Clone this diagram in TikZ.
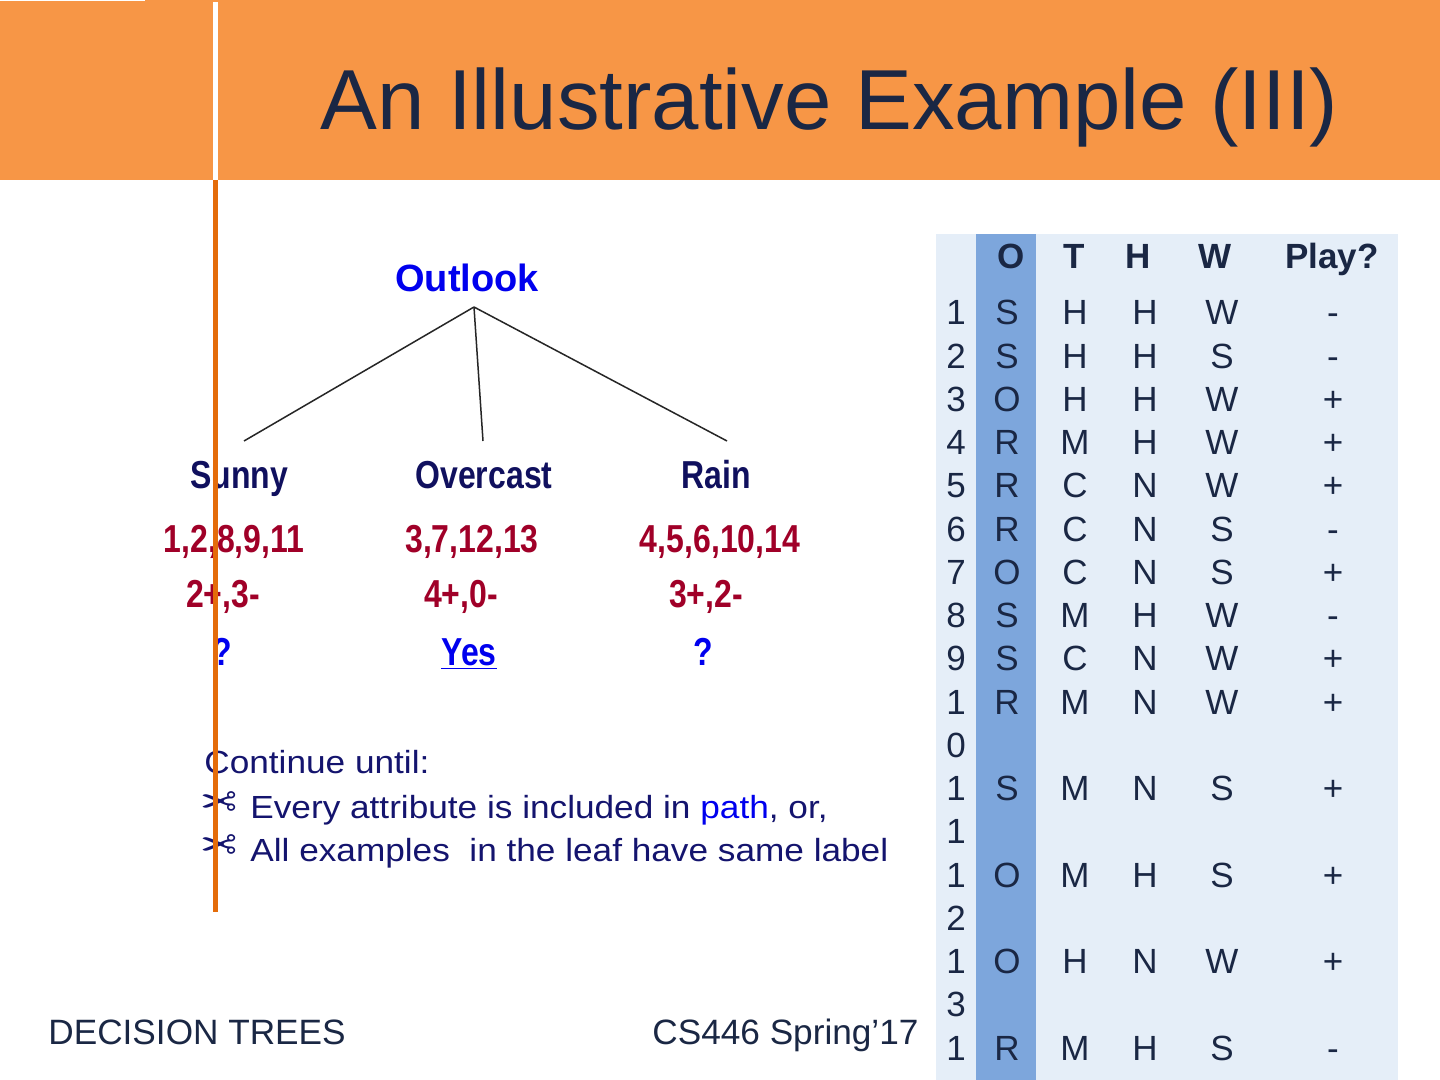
\documentclass[tikz,border=0pt]{standalone}
\usepackage{fontspec}
\usepackage{tikz}
\usetikzlibrary{positioning}
\setmainfont{Liberation Sans}
\newfontfamily\condfont[FakeStretch=0.82]{Liberation Sans}
\newfontfamily\widefont[FakeStretch=1.1]{Liberation Sans}
\newfontfamily\symfont{DejaVu Sans}
\definecolor{header}{HTML}{F79646}
\definecolor{rule}{HTML}{E46C0A}
\definecolor{ink}{HTML}{1A2744}
\definecolor{attrblue}{HTML}{0000EE}
\definecolor{branchnavy}{HTML}{10105E}
\definecolor{countred}{HTML}{A00028}
\definecolor{notenavy}{HTML}{14146E}
\definecolor{tablebg}{HTML}{E5EEF8}
\definecolor{colO}{HTML}{7DA6DC}
\tikzset{
  txt/.style={inner sep=0pt, anchor=base},
  titletxt/.style={txt, anchor=base west, text=ink, font=\fontsize{42.6}{50}\selectfont},
  attr/.style={txt, text=attrblue, font=\bfseries\fontsize{19}{23}\selectfont},
  branch/.style={txt, text=branchnavy, font=\condfont\bfseries\fontsize{19.5}{23}\selectfont},
  count/.style={branch, text=countred},
  leaf/.style={branch, text=attrblue},
  note/.style={txt, anchor=base west, text=notenavy, font=\widefont\fontsize{16}{19}\selectfont},
  snip/.style={txt, text=notenavy, xscale=-1, font=\symfont\fontsize{22}{26}\selectfont},
  cell/.style={txt, text=ink, font=\fontsize{17.5}{21}\selectfont},
  headcell/.style={cell, font=\bfseries\fontsize{17.5}{21}\selectfont},
  foot/.style={txt, anchor=base west, text=ink, font=\fontsize{17.6}{22}\selectfont},
  edge/.style={draw=black!85, line width=0.75pt}
}
\begin{document}
\begin{tikzpicture}[x=0.5pt, y=-0.5pt]
  \useasboundingbox (0,0) rectangle (1440,1080);
  \fill[white] (0,0) rectangle (1440,1080);
  % title bar
  \fill[header] (0,0) rectangle (1440,180);
  \draw[white, line width=1pt] (0,0) -- (145,0);
  \draw[white, line width=2.2pt] (215.5,2) -- (215.5,180);
  \node[titletxt] (title) at (320,130) {An Illustrative Example (III)};

  % tree
  \node[attr] (outlook) at (467,292) {Outlook};
  \coordinate (split) at (474,307);
  \coordinate (sunnytop) at (244,441);
  \coordinate (overtop) at (483,441);
  \coordinate (raintop) at (727,441);
  \draw[edge] (split) -- (sunnytop);
  \draw[edge] (split) -- (overtop);
  \draw[edge] (split) -- (raintop);

  \node[branch] (sunny) at (239,488) {Sunny};
  \node[branch] (overcast) at (484,488) {Overcast};
  \node[branch] (rain) at (716,488) {Rain};
  \node[count] (sunnyset) at (234,552) {1,2,8,9,11};
  \node[count] (overset) at (472,552) {3,7,12,13};
  \node[count] (rainset) at (720,552) {4,5,6,10,14};
  \node[count] (sunnycnt) at (223,607) {2+,3-};
  \node[count] (overcnt) at (461,607) {4+,0-};
  \node[count] (raincnt) at (706,607) {3+,2-};
  \node[leaf] (sunnyleaf) at (222,665) {?};
  \node[leaf] (overleaf) at (469,665) {\underline{Yes}};
  \node[leaf] (rainleaf) at (703,665) {?};

  % stopping rule
  \node[note] (cont) at (204,773) {Continue until:};
  \node[snip] (b1) at (219,817) {✂};
  \node[note] (r1) at (250,818) {Every attribute is included in \textcolor{attrblue}{path}, or,};
  \node[snip] (b2) at (219,860) {✂};
  \node[note] (r2) at (250,861) {All examples\ \ in the leaf have same label};

  % footer
  \node[foot] (course) at (48,1044) {DECISION TREES};
  \node[foot] (term) at (652,1044) {CS446 Spring’17};

  % data table
  \fill[tablebg] (936,234) rectangle (1398,1080);
  \fill[colO] (976,234) rectangle (1036,1080);
  \node[headcell] (hO) at (1011,269) {O};
  \node[headcell] (hT) at (1074,269) {T};
  \node[headcell] (hH) at (1138,269) {H};
  \node[headcell] (hW) at (1215,269) {W};
  \node[headcell] (hPlay) at (1332,269) {Play?};
  \foreach \d [count=\k from 0] in {1,2,3,4,5,6,7,8,9,1,0,1,1,1,2,1,3,1}
    \node[cell] (id\k) at (956,325+43.24*\k) {\d};
  \foreach \l/\o/\t/\h/\w/\p in {0/S/H/H/W/-, 1/S/H/H/S/-, 2/O/H/H/W/+, 3/R/M/H/W/+,
      4/R/C/N/W/+, 5/R/C/N/S/-, 6/O/C/N/S/+, 7/S/M/H/W/-, 8/S/C/N/W/+, 9/R/M/N/W/+,
      11/S/M/N/S/+, 13/O/M/H/S/+, 15/O/H/N/W/+, 17/R/M/H/S/-} {
    \node[cell] (o\l) at (1007,325+43.24*\l) {\o};
    \node[cell] (t\l) at (1075,325+43.24*\l) {\t};
    \node[cell] (h\l) at (1145,325+43.24*\l) {\h};
    \node[cell] (w\l) at (1222,325+43.24*\l) {\w};
    \node[cell] (p\l) at (1333,325+43.24*\l) {\p};
  }

  % margin rule over the text
  \draw[rule, line width=2.2pt] (215.5,180) -- (215.5,912);
\end{tikzpicture}
\end{document}
